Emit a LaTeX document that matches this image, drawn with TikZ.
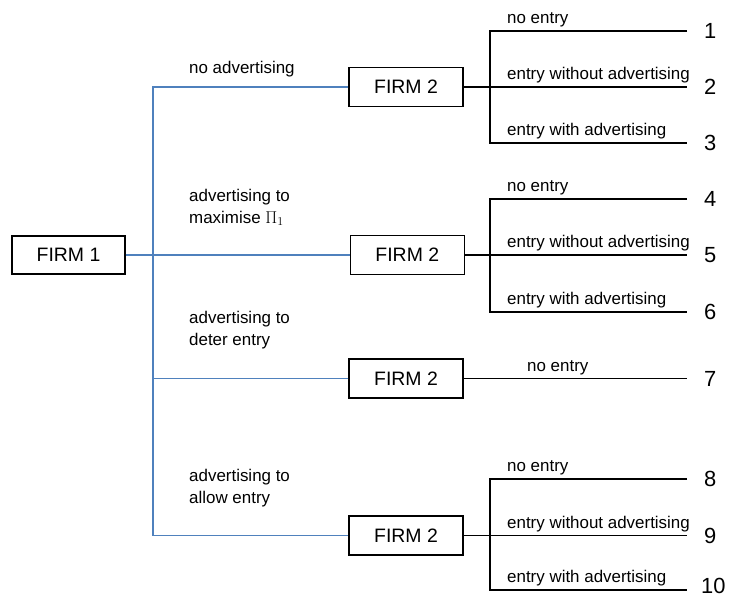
\documentclass[tikz,border=0pt]{standalone}
\usepackage{fontspec}
\setmainfont{Liberation Sans}
\usepackage{amsmath}
\usetikzlibrary{positioning}
\definecolor{treeblue}{RGB}{79,129,189}

\begin{document}
\begin{tikzpicture}[x=1bp, y=-1bp,
        firm/.style={draw, line width=1.3bp, minimum width=114bp, minimum height=39bp, inner sep=0pt, font=\fontsize{19.5}{22}\selectfont},
        move/.style={treeblue, line width=1.2bp},
        reply/.style={line width=1.3bp},
        lab/.style={anchor=base west, inner sep=0pt, align=left, font=\fontsize{17}{22}\selectfont},
        payoff/.style={inner sep=0pt, font=\fontsize{22}{24}\selectfont}]
    \useasboundingbox (0,0) rectangle (729,598);

    % firm 1 and its four choices
    \node[firm, minimum width=113bp, minimum height=38bp] (f1) at (68.5,255) {FIRM 1};
    \node[firm] (f2a) at (406,87) {FIRM 2};
    \node[firm] (f2b) [right=224bp of f1] {FIRM 2};
    \node[firm] (f2c) at (406,378.5) {FIRM 2};
    \node[firm] (f2d) at (406,535.5) {FIRM 2};

    \coordinate (trunk) at (153,255);
    \draw[move] (f2a.west) -| (f2d.west -| trunk) -- (f2d.west);
    \draw[move] (f1) -- (f2b);
    \draw[move] (f2c.west) -- (f2c.west -| trunk);

    \node[lab] (l1) at (189,74) {no advertising};
    \node[lab] (l2) at (189,223) {advertising to\\maximise $\Pi_1$};
    \node[lab] (l3) at (189,345) {advertising to\\deter entry};
    \node[lab] (l4) at (189,503) {advertising to\\allow entry};

    % firm 2 replies
    \coordinate (ja) at (490,87);
    \coordinate (e1) at (687,31);
    \coordinate (e2) at (687,87);
    \coordinate (e3) at (687,143);
    \draw[reply] (f2a.east) -- (e2);
    \draw[reply] (e1) -| (ja) |- (e3);

    \coordinate (jb) at (490,255);
    \coordinate (e4) at (687,199);
    \coordinate (e5) at (687,255);
    \coordinate (e6) at (687,312);
    \draw[reply] (f2b.east) -- (e5);
    \draw[reply] (e4) -| (jb) |- (e6);

    \coordinate (e7) at (687,378.5);
    \draw[reply] (f2c.east) -- (e7);

    \coordinate (jd) at (490,535.5);
    \coordinate (e8) at (687,479);
    \coordinate (e9) at (687,535.5);
    \coordinate (e10) at (687,590);
    \draw[reply] (f2d.east) -- (e9);
    \draw[reply] (e8) -| (jd) |- (e10);

    \node[lab] (r1) at (507,23.5) {no entry};
    \node[lab] (r2) at (507,79.5) {entry without advertising};
    \node[lab] (r3) at (507,135.5) {entry with advertising};
    \node[lab] (r4) at (507,191.5) {no entry};
    \node[lab] (r5) at (507,247.5) {entry without advertising};
    \node[lab] (r6) at (507,304.5) {entry with advertising};
    \node[lab] (r7) at (527,371) {no entry};
    \node[lab] (r8) at (507,471.5) {no entry};
    \node[lab] (r9) at (507,528.5) {entry without advertising};
    \node[lab] (r10) at (507,582.5) {entry with advertising};

    % outcomes
    \node[payoff] (n1) [right=17bp of e1] {1};
    \node[payoff] (n2) [right=17bp of e2] {2};
    \node[payoff] (n3) [right=17bp of e3] {3};
    \node[payoff] (n4) [right=17bp of e4] {4};
    \node[payoff] (n5) [right=17bp of e5] {5};
    \node[payoff] (n6) [right=17bp of e6] {6};
    \node[payoff] (n7) [right=17bp of e7] {7};
    \node[payoff] (n8) [right=17bp of e8] {8};
    \node[payoff] (n9) [right=17bp of e9] {9};
    \node[payoff] (n10) [right=14bp of e10, yshift=4bp] {10};
\end{tikzpicture}
\end{document}
